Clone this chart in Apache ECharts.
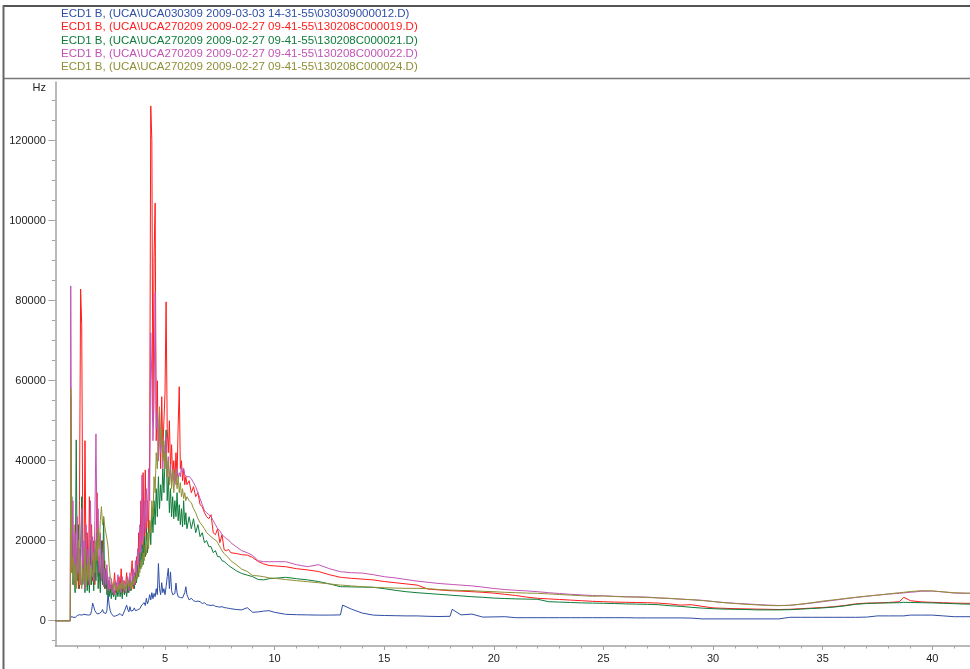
<!DOCTYPE html>
<html><head><meta charset="utf-8">
<script src="https://cdn.jsdelivr.net/npm/echarts@6/dist/echarts.min.js"></script>
<style>html,body{margin:0;padding:0;background:#fff}#c{width:970px;height:669px}</style>
</head><body><div id="c"></div>
<script>
const seriesNames = [
  'ECD1 B, (UCA\\UCA030309 2009-03-03 14-31-55\\030309000012.D)',
  'ECD1 B, (UCA\\UCA270209 2009-02-27 09-41-55\\130208C000019.D)',
  'ECD1 B, (UCA\\UCA270209 2009-02-27 09-41-55\\130208C000021.D)',
  'ECD1 B, (UCA\\UCA270209 2009-02-27 09-41-55\\130208C000022.D)',
  'ECD1 B, (UCA\\UCA270209 2009-02-27 09-41-55\\130208C000024.D)'
];
const seriesColors = ['#2f4ea5', '#ff1c1c', '#0e7c3a', '#c354b4', '#8f8f35'];

const yLabelValues = [0, 20000, 40000, 60000, 80000, 100000, 120000];
const yMinorTicks = [-5000, 0, 5000, 10000, 15000, 20000, 25000, 30000, 35000, 40000, 45000, 50000, 55000, 60000, 65000, 70000, 75000, 80000, 85000, 90000, 95000, 100000, 105000, 110000, 115000, 120000, 125000, 130000];
const xLabelValues = [5, 10, 15, 20, 25, 30, 35, 40];
const xMinorTicks = [1,2,3,4,5,6,7,8,9,10,11,12,13,14,15,16,17,18,19,20,21,22,23,24,25,26,27,28,29,30,31,32,33,34,35,36,37,38,39,40,41];

// x positions (minutes)
const xHead = [0, 0.68];
const xPeak = [
  0.70,0.75,0.80,0.85,0.90,0.95,
  1.00,1.05,1.10,1.15,1.20,1.25,1.30,1.35,1.40,1.45,
  1.50,1.55,1.60,1.65,1.70,1.75,1.80,1.85,1.90,1.95,
  2.00,2.05,2.10,2.15,2.20,2.25,2.30,2.35,2.40,2.45,
  2.50,2.55,2.60,2.65,2.70,2.75,2.80,2.85,2.90,2.95,
  3.00,3.05,3.10,3.15,3.20,3.25,3.30,3.35,3.40,3.45,
  3.50,3.55,3.60,3.65,3.70,3.75,3.80,3.85,3.90,3.95,
  4.00,4.05,4.10,4.15,4.20,4.25,4.30,4.35,4.40,4.45,
  4.50,4.55,4.60,4.65,4.70,4.75,4.80,4.85,4.90,4.95,
  5.00,5.05,5.10,5.15,5.20,5.25,5.30,5.35,5.40,5.45,
  5.50,5.55,5.60,5.65,5.70,5.75,5.80,5.85,5.90,5.95,
  6.00
];
const xDecay = [6.1,6.2,6.3,6.4,6.5,6.6,6.7,6.8,6.9,7.0,7.1,7.2,7.3,7.4,7.5,7.6,7.7,7.8,7.9,8.0, 8.25,8.5,8.75,9.0,9.25,9.5,9.75,10.0];
const xTail = [
  10.5,11,11.5,12,12.5,13,13.1,13.5,14,14.5,15,15.5,16,16.5,17,17.5,18,18.1,18.5,19,19.5,20,
  20.5,21,21.5,22,22.5,23,23.5,24,24.5,25,25.5,26,26.5,27,27.5,28,28.5,29,29.5,30,
  30.5,31,31.5,32,32.5,33,33.5,34,34.5,35,35.5,36,36.5,37,37.5,38,38.5,
  38.7,
  39,39.5,40,40.5,41,41.5,42
];
const yHead = [0, 0];

// ---- 030309000012 (blue)
const bluePeak = [
  1000,700,900,1200,800,1100,
  1300,900,1500,1000,1400,1100,1600,1200,1500,1300,
  1400,1800,1500,2500,4400,3500,2500,2000,1700,1500,
  1800,1600,2200,2800,2000,1700,1800,2500,6900,4000,
  2500,1800,1300,1100,1000,1200,1000,1400,1300,1800,
  1400,1200,1500,2400,2000,3900,2800,2200,3500,2400,
  2000,2600,3200,2500,2000,2700,2300,3000,2700,4000,
  3500,4500,3800,5600,4200,5000,6500,5200,7000,5500,
  6800,6000,8000,6500,14300,8000,6500,9500,7000,8000,
  6500,8500,11000,13100,8000,12200,7500,6500,6000,6800,
  9400,7000,6000,5500,5800,5400,5700,6200,7000,8500,
  6500
];
const blueDecay = [5200,5600,5000,4800,4900,4750,4300,4500,4000,3900,3800,3900,3600,3500,3400,3500,3300,3200,3100,3000, 2800,2700,3250,2100,2200,2400,2500,2100];
const blueTail = [
  1600,1500,1450,1400,1400,1450,3900,2900,1900,1400,1300,1250,1200,1200,1100,1050,1100,2850,1450,1650,900,950,
  1000,750,750,750,750,750,750,750,750,750,750,750,700,700,700,700,700,650,450,450,
  450,450,450,450,450,450,850,850,850,850,850,850,850,900,1200,1200,1200,
  1200,
  1400,1400,1400,1200,1000,1000,1000
];

// ---- 130208C000019 (red)
const redPeak = [
  56000,12000,20000,9000,24000,11000,
  18000,8000,30000,82900,74000,20000,10000,45000,12000,22000,
  9000,31000,14000,24000,10000,20000,9000,18000,32000,11000,
  16000,8000,14000,20000,9000,15000,8000,12000,7000,10000,
  7000,9000,6500,8500,12000,7000,9500,6500,11000,7500,
  13000,7000,10000,6500,9000,12000,7000,10000,7500,11000,
  15000,8000,12000,9000,16000,11000,22000,13000,30000,18000,
  37000,16000,37700,20000,30000,22000,42000,128700,120000,50000,
  91000,104400,45000,60000,40000,52000,38000,56000,42000,50000,
  56900,79700,48000,42000,50000,38000,44000,36000,40000,35000,
  42000,36000,48900,58500,38000,40000,35000,38000,34000,36000,
  34000
];
const redDecay = [35000,32000,33500,31000,32000,29000,28500,27000,26000,25500,26500,22000,21500,23000,19500,21500,17700,17500,17800,17000, 16800,16500,16400,15800,14800,14200,13800,13700];
const redTail = [
  13500,13000,12700,12300,11500,10850,10800,10600,10400,10200,9800,9500,9200,8900,7900,7700,7500,7480,7400,7250,7100,6900,
  6600,6300,5900,5600,5450,5300,5150,5000,4850,4750,4650,4600,4550,4500,4400,4200,3900,4000,3600,3200,
  3100,3000,2950,2900,2850,2800,2850,3000,3150,3300,3500,3800,4200,4400,4450,4550,4750,
  5850,
  5000,4700,4600,4500,4400,4350,4350
];

// ---- 130208C000021 (green)
const greenPeak = [
  25000,31000,9000,14000,7000,45200,
  10000,24000,8000,18000,31000,9000,14000,7000,22000,7500,
  12000,7000,20000,9000,15000,7500,18000,10000,22000,8000,
  14000,7000,20000,9000,26000,8000,13000,6500,10000,6000,
  8000,5500,9000,6000,7500,5200,8000,6000,9500,6000,
  8000,5500,9000,6500,8500,6000,9000,7000,10000,7500,
  9000,11000,8000,12000,9500,14000,11000,17000,13000,19000,
  14000,21000,16000,23000,17000,20000,25000,19000,28000,22000,
  30000,24000,33000,26000,36000,28000,34000,30000,38000,32000,
  40000,47700,30000,36000,27000,33000,26000,31000,25500,30000,
  26000,32000,25000,29000,24000,28000,23500,30000,24000,27000,
  23000
];
const greenDecay = [26000,23000,25500,22000,24000,21000,22000,19500,20000,18500,18500,17000,17500,16000,16000,15000,14800,14300,13800,13400, 12500,11800,11400,11000,10300,10200,10500,10600];
const greenTail = [
  10850,10500,10200,9800,9200,8500,8500,8450,8400,8350,8000,7600,7250,7000,6800,6600,6400,6350,6200,6000,5850,5650,
  5550,5450,5400,5350,4750,4650,4550,4450,4400,4350,4300,4200,4150,4100,4000,3750,3600,3350,3150,3000,
  2900,2850,2800,2700,2700,2700,2750,2900,3050,3200,3400,3700,4100,4300,4400,4450,4500,
  4600,
  4550,4500,4450,4350,4250,4150,4150
];

// ---- 130208C000022 (magenta)
const magentaPeak = [
  83700,15000,30000,10000,22000,9000,
  26000,12000,18000,9000,28000,11000,20000,8000,24000,12000,
  18000,9000,30000,13000,21000,10000,25000,46700,20000,28000,
  12000,22000,10000,17000,8500,13000,9000,14000,7500,11000,
  8000,10500,7000,9000,6500,10000,7500,11500,8000,9500,
  7000,11000,8000,10000,7000,9500,11000,7500,12000,8500,
  10000,13000,9000,15000,11000,18000,14000,24000,17000,36400,
  20000,30000,22000,33000,25000,38000,30000,72000,60000,45000,
  55000,82000,48000,52000,40000,50000,42000,47000,38000,44000,
  40000,46000,36000,41000,35000,39000,34000,38000,35000,37000,
  34000,38000,35500,37000,36000,38500,37000,38000,36500,37000,
  36000
];
const magentaDecay = [36000,35500,34500,33500,32000,30500,29000,27500,27000,26500,26000,25000,24000,23000,22500,21500,21000,20500,20200,19500, 18500,17500,17000,16300,15000,14750,14750,14750];
const magentaTail = [
  14750,14000,13500,14000,13000,12250,12200,12000,11900,11500,11000,10700,10300,9900,9600,9300,9100,9050,8900,8700,8400,8050,
  7800,7600,7450,7250,7000,6800,6600,6450,6300,6200,6100,6000,5950,5900,5700,5550,5400,5250,5100,4800,
  4550,4350,4200,4050,3900,3800,3850,4100,4400,4750,5100,5450,5800,6100,6400,6650,6850,
  6950,
  7100,7350,7400,7200,6900,6850,6850
];

// ---- 130208C000024 (olive)
const olivePeak = [
  58000,12000,16000,9000,14000,8000,
  12000,20000,9000,15000,8000,13000,9500,18000,8500,14000,
  10000,16000,9000,13000,11000,17000,12000,20000,15000,23000,
  18000,25000,28500,24000,26000,23500,22000,20500,18500,14000,
  11000,10200,9000,8000,9500,7500,8500,7000,9000,7500,
  9500,8000,10000,7500,9000,8000,10500,8500,9500,8000,
  10000,9000,11000,9500,12000,10500,13500,12000,15000,13500,
  17000,15000,19000,16500,22000,18000,25000,22000,30000,26000,
  36000,32000,42000,38000,46000,53500,44000,48000,40000,45000,
  38000,42000,36000,40000,34000,38000,33000,37700,32000,36000,
  37700,33000,36000,32000,34500,31000,33000,30500,32000,30000,
  31000
];
const oliveDecay = [30000,29500,28000,27000,25500,24500,23800,23000,22000,21500,21000,20500,20200,19500,18500,17500,16800,16200,15700,15000, 14000,12900,12300,11300,11200,11000,10700,10600];
const oliveTail = [
  10300,10000,9750,9500,9200,8900,8880,8700,8500,8350,8250,8150,8100,8100,8000,7800,7650,7640,7550,7500,7350,7250,
  7100,7000,6900,6850,6700,6550,6400,6250,6100,6200,6050,5950,5900,5800,5700,5600,5400,5250,5050,4800,
  4500,4300,4100,3950,3800,3750,3850,4150,4500,4900,5200,5550,5850,6150,6400,6700,7000,
  7100,
  7300,7500,7450,7200,7000,6900,6850
];

const xs = xHead.concat(xPeak, xDecay, xTail);
function pairs(peak, decay, tail) {
  const ys = yHead.concat(peak, decay, tail);
  if (ys.length !== xs.length) console.error('length mismatch', ys.length, xs.length);
  return xs.map((x, i) => [x, ys[i]]);
}
const seriesData = [
  pairs(bluePeak, blueDecay, blueTail),
  pairs(redPeak, redDecay, redTail),
  pairs(greenPeak, greenDecay, greenTail),
  pairs(magentaPeak, magentaDecay, magentaTail),
  pairs(olivePeak, oliveDecay, oliveTail)
];

const FONT = '"Liberation Sans", Arial, sans-serif';
const chart = echarts.init(document.getElementById('c'), null, {renderer: 'canvas'});
const axisGray = '#a3a3a3';
const labelStyle = {color: '#222', fontSize: 11, fontFamily: FONT};

const graphics = [
  {type: 'line', shape: {x1: 3, y1: 6, x2: 970, y2: 6}, style: {stroke: '#555', lineWidth: 2}, silent: true},
  {type: 'line', shape: {x1: 3, y1: 78.5, x2: 970, y2: 78.5}, style: {stroke: '#777', lineWidth: 1.5}, silent: true},
  {type: 'line', shape: {x1: 3.5, y1: 5, x2: 3.5, y2: 669}, style: {stroke: '#666', lineWidth: 2}, silent: true},
  {type: 'text', x: 46, y: 88, style: {text: 'Hz', fill: '#222', font: '11px ' + FONT, align: 'right', verticalAlign: 'middle'}, silent: true}
];
const legendY = [14, 27.2, 40.4, 53.6, 66.8];
seriesNames.forEach((n, i) => {
  graphics.push({type: 'text', x: 61, y: legendY[i], style: {text: n, fill: seriesColors[i], font: '11.5px ' + FONT, verticalAlign: 'middle'}, silent: true});
});

chart.setOption({
  animation: false,
  backgroundColor: '#fff',
  grid: {left: 55.4, right: 0, top: 82, bottom: 23, containLabel: false},
  xAxis: [
    {type: 'value', min: 0, max: 41.72, position: 'bottom',
     axisLine: {show: true, onZero: false, lineStyle: {color: axisGray, width: 1.5}},
     axisTick: {show: true, customValues: xLabelValues, length: 4, lineStyle: {color: axisGray, width: 1}},
     axisLabel: {show: true, customValues: xLabelValues, margin: 7, formatter: v => String(v), ...labelStyle},
     splitLine: {show: false}},
    {type: 'value', min: 0, max: 41.72, position: 'bottom', offset: 0,
     axisLine: {show: false, onZero: false},
     axisTick: {show: true, customValues: xMinorTicks, length: 2.5, lineStyle: {color: axisGray, width: 1}},
     axisLabel: {show: false},
     splitLine: {show: false}}
  ],
  yAxis: [
    {type: 'value', min: -6325, max: 134675, position: 'left',
     axisLine: {show: true, onZero: false, lineStyle: {color: axisGray, width: 1.5}},
     axisTick: {show: true, customValues: yLabelValues, length: 7, lineStyle: {color: axisGray, width: 1}},
     axisLabel: {show: true, customValues: yLabelValues, margin: 9.5, formatter: v => String(v), ...labelStyle},
     splitLine: {show: false}},
    {type: 'value', min: -6325, max: 134675, position: 'left', offset: 0,
     axisLine: {show: false, onZero: false},
     axisTick: {show: true, customValues: yMinorTicks, length: 3.5, lineStyle: {color: axisGray, width: 1}},
     axisLabel: {show: false},
     splitLine: {show: false}}
  ],
  series: seriesData.map((d, i) => ({
    name: seriesNames[i], type: 'line', data: d, xAxisIndex: 0, yAxisIndex: 0,
    showSymbol: false, symbol: 'none', sampling: null, clip: true, z: 2 + i,
    lineStyle: {color: seriesColors[i], width: 1},
    itemStyle: {color: seriesColors[i]},
    emphasis: {disabled: true}
  })),
  graphic: graphics
});
</script></body></html>
